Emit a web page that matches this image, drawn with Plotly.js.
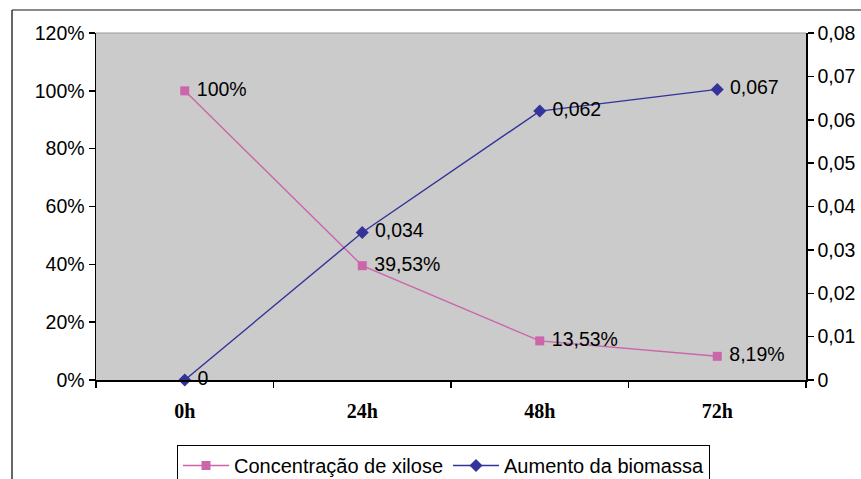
<!DOCTYPE html>
<html>
<head>
<meta charset="utf-8">
<script src="https://cdn.plot.ly/plotly-3.0.1.min.js"></script>
<style>
  html, body { margin: 0; padding: 0; background: #ffffff; }
  #chart { width: 861px; height: 479px; }
</style>
</head>
<body>
<div id="chart"></div>
<script>
// Sampling times
const categories = ["0h", "24h", "48h", "72h"];
// Xylose concentration (% of initial)
const xiloseValues = [100, 39.53, 13.53, 8.19];
// Biomass increase
const biomassaValues = [0, 0.034, 0.062, 0.067];
// Left and right axis ticks
const leftTicks = [0, 20, 40, 60, 80, 100, 120];
const rightTicks = [0, 0.01, 0.02, 0.03, 0.04, 0.05, 0.06, 0.07, 0.08];

const fmt = v => String(v).replace(".", ",");
const PAD = "\u00a0";

const FONT = "Liberation Sans, Arial, sans-serif";
const SERIF = "Liberation Serif, Times New Roman, serif";
const FS = 19.5;
const PINK = "#CC66AA";
const NAVY = "#333399";

const traces = [
  {
    name: "Concentração de xilose",
    x: categories,
    y: xiloseValues,
    type: "scatter",
    mode: "lines+markers+text",
    text: xiloseValues.map(v => PAD + fmt(v) + "%"),
    textposition: "middle right",
    textfont: { family: FONT, size: FS, color: "#000" },
    line: { color: PINK, width: 1.4 },
    marker: { symbol: "square", size: 9, color: PINK },
    cliponaxis: false,
    yaxis: "y"
  },
  {
    name: "Aumento da biomassa",
    x: categories,
    y: biomassaValues,
    type: "scatter",
    mode: "lines+markers+text",
    text: biomassaValues.map(v => PAD + fmt(v)),
    textposition: "middle right",
    textfont: { family: FONT, size: FS, color: "#000" },
    line: { color: NAVY, width: 1.4 },
    marker: { symbol: "diamond", size: 10, color: NAVY },
    cliponaxis: false,
    yaxis: "y2"
  }
];

// Plot area in pixels, used to place the outer frame
const L = 96, R = 55, T = 33, B = 99, W = 861, H = 479;
const pw = W - L - R, ph = H - T - B;
const px = x => (x - L) / pw;
const py = y => (H - B - y) / ph;

const layout = {
  width: W,
  height: H,
  margin: { l: L, r: R, t: T, b: B, pad: 0, autoexpand: false },
  paper_bgcolor: "#ffffff",
  plot_bgcolor: "#CBCBCB",
  separators: ",.",
  font: { family: FONT, size: FS, color: "#000" },
  showlegend: true,
  legend: {
    orientation: "h",
    xref: "container",
    yref: "container",
    x: 177 / W,
    xanchor: "left",
    y: 1 - 445 / H,
    yanchor: "top",
    bgcolor: "#ffffff",
    bordercolor: "#000",
    borderwidth: 1,
    font: { family: FONT, size: 20, color: "#000" },
    itemwidth: 46,
    tracegroupgap: 0
  },
  xaxis: {
    type: "category",
    range: [-0.5, 3.5],
    showgrid: false,
    zeroline: false,
    showline: true,
    linecolor: "#000",
    linewidth: 1.5,
    ticks: "outside",
    tickson: "boundaries",
    ticklen: 6,
    tickwidth: 1.5,
    tickcolor: "#000",
    tickfont: { family: SERIF, size: 20, weight: "bold", color: "#000" },
    ticklabelstandoff: 12,
    fixedrange: true
  },
  xaxis2: {
    overlaying: "x",
    anchor: "y",
    range: [-0.5, 3.5],
    tickvals: [0.5, 1.5, 2.5],
    ticks: "inside",
    ticklen: 4,
    tickwidth: 1.5,
    tickcolor: "#000",
    showticklabels: false,
    showgrid: false,
    zeroline: false,
    showline: false
  },
  yaxis: {
    range: [0, 120],
    tickvals: leftTicks,
    ticktext: leftTicks.map(v => v + "%"),
    showgrid: false,
    zeroline: false,
    showline: true,
    linecolor: "#000",
    linewidth: 1.5,
    ticks: "outside",
    ticklen: 6,
    tickwidth: 1.5,
    tickcolor: "#000",
    tickfont: { family: FONT, size: FS, color: "#000" },
    fixedrange: true
  },
  yaxis2: {
    overlaying: "y",
    side: "right",
    anchor: "x",
    range: [0, 0.08],
    tickvals: rightTicks,
    ticktext: rightTicks.map(v => fmt(+v.toFixed(2))),
    showgrid: false,
    zeroline: false,
    showline: true,
    linecolor: "#000",
    linewidth: 1.5,
    ticks: "outside",
    ticklen: 6,
    tickwidth: 1.5,
    tickcolor: "#000",
    tickfont: { family: FONT, size: FS, color: "#000" },
    fixedrange: true
  },
  yaxis3: {
    overlaying: "y",
    side: "left",
    anchor: "x",
    range: [0, 120],
    tickvals: leftTicks,
    ticks: "inside",
    ticklen: 5,
    tickwidth: 1.5,
    tickcolor: "#000",
    showticklabels: false,
    showgrid: false,
    zeroline: false,
    showline: false
  },
  yaxis4: {
    overlaying: "y",
    side: "right",
    anchor: "x",
    range: [0, 0.08],
    tickvals: rightTicks,
    ticks: "inside",
    ticklen: 5,
    tickwidth: 1.5,
    tickcolor: "#000",
    showticklabels: false,
    showgrid: false,
    zeroline: false,
    showline: false
  },
  shapes: [
    // outer chart frame (top and left edges)
    { type: "line", xref: "paper", yref: "paper", x0: px(12), x1: px(870), y0: py(10), y1: py(10),
      line: { color: "#8a8a8a", width: 2 } },
    { type: "line", xref: "paper", yref: "paper", x0: px(12), x1: px(12), y0: py(10), y1: py(490),
      line: { color: "#333", width: 1.5 } },
    // top edge of the plot area
    { type: "line", xref: "paper", yref: "paper", x0: 0, x1: 1, y0: 1, y1: 1,
      line: { color: "#9a9a9a", width: 1 } }
  ]
};

Plotly.newPlot("chart", traces, layout, { displayModeBar: false, staticPlot: true });
</script>
</body>
</html>
